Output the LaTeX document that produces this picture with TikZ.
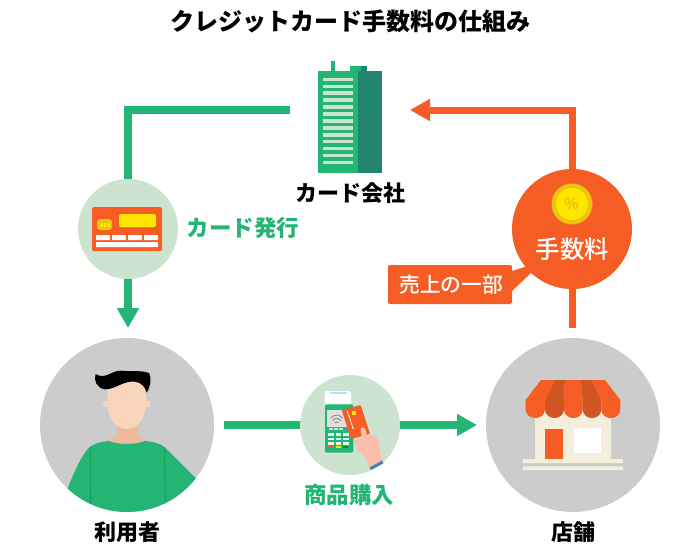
\documentclass[tikz,border=0pt]{standalone}
\usepackage{fontspec}
\setmainfont{Noto Sans CJK JP}
\newfontfamily\mediumjp{Noto Sans CJK JP Medium}
\usetikzlibrary{arrows.meta}
\definecolor{mygreen}{HTML}{22B573}
\definecolor{seamgreen}{HTML}{1E9A57}
\definecolor{darkteal}{HTML}{23856F}
\definecolor{palegreen}{HTML}{CCE3CF}
\definecolor{myorange}{HTML}{F55D25}
\definecolor{darkorange}{HTML}{D15522}
\definecolor{mygray}{HTML}{CCCCCC}
\definecolor{skin}{HTML}{F8D5BC}
\definecolor{neck}{HTML}{F0B89A}
\definecolor{handskin}{HTML}{F9BFA8}
\definecolor{cream}{HTML}{F3EFDC}
\definecolor{myyellow}{HTML}{FFE600}
\definecolor{coinrim}{HTML}{EBC40F}
\tikzset{
  disc/.style={circle,inner sep=0pt,outer sep=0pt,minimum size=#1},
  person/.style={font=\fontsize{22}{24}\selectfont\bfseries,text=black,inner sep=0pt},
  greentext/.style={font=\fontsize{22.5}{24}\selectfont\bfseries,text=mygreen,inner sep=0pt},
  greenline/.style={draw=mygreen,line width=7.5pt},
  orangeline/.style={draw=myorange,line width=7pt},
  bigtip/.style={-{Triangle[length=20pt,width=21pt]}},
  sparkle/.pic={\fill[myyellow] (0,-1)..controls (.12,-.12)..(1,0)..controls (.12,.12)..(0,1)..controls (-.12,.12)..(-1,0)..controls (-.12,-.12)..(0,-1)--cycle;}
}
\begin{document}
\begin{tikzpicture}[x=1pt,y=-1pt]
\useasboundingbox (0,0) rectangle (700,550);
\node[font=\fontsize{24}{26}\selectfont\bfseries,inner sep=0pt] (title) at (350,21) {クレジットカード手数料の仕組み};
\node[inner sep=0pt,outer sep=0pt,minimum width=64pt,minimum height=126pt] (company) at (350,110) {};
\node[disc=100pt,fill=palegreen] (cardissue) at (128,229) {};
\node[disc=120pt,fill=myorange] (fee) at (572,229) {};
\node[disc=100pt,fill=palegreen] (pay) at (350,425) {};
\node[disc=174pt,fill=mygray] (user) at (127,425) {};
\node[disc=174pt,fill=mygray] (shop) at (573,425) {};
\draw[greenline,shorten <=28pt] (company.west) -| (cardissue.north);
\draw[greenline,bigtip,shorten >=10pt] (cardissue.south) -- (cardissue.south |- user.north);
\draw[greenline,shorten <=10pt] (user.east) -- (pay.west);
\draw[greenline,bigtip,shorten >=9pt] (pay.east) -- (shop.west);
\draw[orangeline,bigtip,shorten >=28pt] (fee.north) |- (company.east);
\draw[orangeline,shorten <=10pt] (fee.south |- shop.north) -- (fee.south);
% building
\fill[mygreen] (318,71) rectangle (358,173);
\fill[darkteal] (358,71) rectangle (382,173);
\fill[mygreen] (331,61) rectangle (335,71) (350,66) rectangle (361,71);
\fill[darkteal] (361,66) rectangle (367,71);
\foreach \i in {0,...,12}
  \fill[palegreen] (323,77.6+\i*6.94) rectangle (353,81+\i*6.94);
\node[person] (companylabel) at (350,193) {カード会社};
% credit card
\fill[myorange,rounded corners=1.5pt] (92,207) rectangle (162,251);
\fill[myyellow,rounded corners=1.5pt] (119,214) rectangle (156,227);
\fill[coinrim,rounded corners=3pt] (97,219) rectangle (112,230);
\fill[myyellow] (99.5,222.5) rectangle (109.5,226.5);
\draw[coinrim,line width=.7pt] (103,222.5) -- (103,226.5) (106,222.5) -- (106,226.5);
\foreach \x in {96,112,128,144}
  \fill[white,rounded corners=.5pt] (\x,235) rectangle (\x+14,240);
\fill[white,rounded corners=.5pt] (96,242) rectangle (158,247);
\pic[x=14pt,y=14pt] at (166,190) {sparkle};
\pic[x=10pt,y=10pt] at (151,202) {sparkle};
\node[greentext] (issuelabel) at (243,228) {カード発行};
% coin and fee label
\fill[coinrim] (572,204) circle (20.5);
\fill[myyellow] (572,204) circle (16);
\node[font=\fontsize{15}{15}\selectfont\bfseries,text=coinrim,inner sep=0pt] (coin) at (571.5,204) {\%};
\node[font=\fontsize{24.5}{26}\selectfont\mediumjp,text=white,inner sep=0pt] (feelabel) at (572.5,249) {手数料};
\node[fill=myorange,rounded corners=2pt,minimum width=124pt,minimum height=39pt,inner sep=0pt,outer sep=0pt,font=\fontsize{20.8}{22}\selectfont\mediumjp,text=white] (share) at (450,284.5) {\hspace{2.5pt}売上の一部};
\fill[myorange] (share.east |- 0,271) -- (528,266) -- (532,272) -- (share.east |- 0,291) -- cycle;
% man
\begin{scope}[shift={(30,330)},scale=1/3]
\clip (291,285) circle (261);
\fill[neck] (262,270) rectangle (320,345);
\fill[neck] (262,315) -- (225,335) -- (355,335) -- (320,315) -- cycle;
\fill[mygreen] (235,333) .. controls (270,345) and (310,345) .. (345,333) .. controls (370,335) and (390,340) .. (405,352) -- (498,445) -- (540,560) -- (60,560) -- (113,475) .. controls (135,420) and (155,375) .. (180,350) .. controls (195,340) and (215,335) .. (235,333) -- cycle;
\draw[seamgreen,line width=.8pt] (181,355) -- (182,525) (403,355) -- (406,525);
\fill[skin] (228,222) circle (10) (352,222) circle (10);
\fill[skin] (232,170) .. controls (232,120) and (348,120) .. (348,170) -- (348,225) .. controls (345,270) and (320,297) .. (290,297) .. controls (260,297) and (235,270) .. (232,225) -- cycle;
\fill[black] (197,132) .. controls (190,150) and (200,175) .. (225,178) .. controls (250,180) and (285,150) .. (315,155) .. controls (335,158) and (345,170) .. (350,188) .. controls (362,170) and (365,145) .. (358,130) .. controls (340,120) and (300,125) .. (270,122) .. controls (245,122) and (225,150) .. (197,132) -- cycle;
\end{scope}
\node[person] (userlabel) at (127,532) {利用者};
% payment terminal and hand
\begin{scope}[shift={(290,365)},scale=1/3]
\fill[white,rounded corners=2pt] (104,78) rectangle (183,118);
\fill[blue!30!cyan!35] (120,82) rectangle (170,87);
\fill[mygreen,rounded corners=2pt] (105,118) rectangle (190,263);
\fill[black!12] (110,135) rectangle (180,185);
\draw[black!45,line width=.9pt] (122,160) .. controls (132,147) and (148,147) .. (158,160) (128,167) .. controls (135,158) and (145,158) .. (152,167) (134,174) .. controls (138,170) and (142,170) .. (146,174);
\foreach \x in {116,132,148}
  \fill[palegreen] (\x,188) rectangle (\x+12,194);
\foreach \x in {115,137,159}
  \foreach \y in {205,218,231}
    \fill[white!90!mygreen] (\x,\y) rectangle (\x+17,\y+8);
\fill[myorange] (115,244) rectangle (132,250);
\fill[myyellow] (137,244) rectangle (153,250);
\fill[green!60!black] (159,244) rectangle (175,250);
\fill[myorange,rounded corners=1pt] (155,135) -- (212,120) -- (240,207) -- (183,222) -- cycle;
\draw[white,line width=1.1pt,dashed,dash pattern=on 3pt off 1pt] (172,138) -- (190,192);
\fill[myyellow] (186,138) rectangle (197,150);
\fill[handskin] (212,190) .. controls (220,182) and (226,190) .. (228,200) -- (232,215) .. controls (250,205) and (262,210) .. (265,230) .. controls (268,255) and (272,270) .. (278,288) -- (240,310) .. controls (232,285) and (222,270) .. (205,258) .. controls (195,252) and (198,245) .. (205,245) .. controls (188,240) and (188,228) .. (198,225) .. controls (208,222) and (214,222) .. (216,222) -- cycle;
\draw[blue!40!cyan!60!black!75,line width=3pt] (241,311) -- (278,291);
\end{scope}
\node[greentext] (paylabel) at (349,495) {商品購入};
% shop
\begin{scope}[shift={(480,335)},scale=1/3]
\fill[cream] (165,230) rectangle (392,372);
\fill[cream] (129,372) rectangle (429,384) (129,394) rectangle (429,405);
\fill[myorange] (196,282) rectangle (249,372);
\fill[white] (282,278) rectangle (363,353);
\fill[myorange] (183,135) -- (137,195) -- (137,222) .. controls (137,258) and (195,258) .. (195,222) -- (195,195) -- (225,135) -- cycle;
\fill[darkorange] (225,135) -- (195,195) -- (195,222) .. controls (195,258) and (252,258) .. (252,222) -- (252,195) -- (255,135) -- cycle;
\fill[myorange] (255,135) -- (252,195) -- (252,222) .. controls (252,258) and (308,258) .. (308,222) -- (308,195) -- (302,135) -- cycle;
\fill[darkorange] (302,135) -- (308,195) -- (308,222) .. controls (308,258) and (364,258) .. (364,222) -- (364,195) -- (335,135) -- cycle;
\fill[myorange] (335,135) -- (364,195) -- (364,222) .. controls (364,258) and (421,258) .. (421,222) -- (421,195) -- (375,135) -- cycle;
\end{scope}
\node[person] (shoplabel) at (573,532) {店舗};
\end{tikzpicture}
\end{document}
